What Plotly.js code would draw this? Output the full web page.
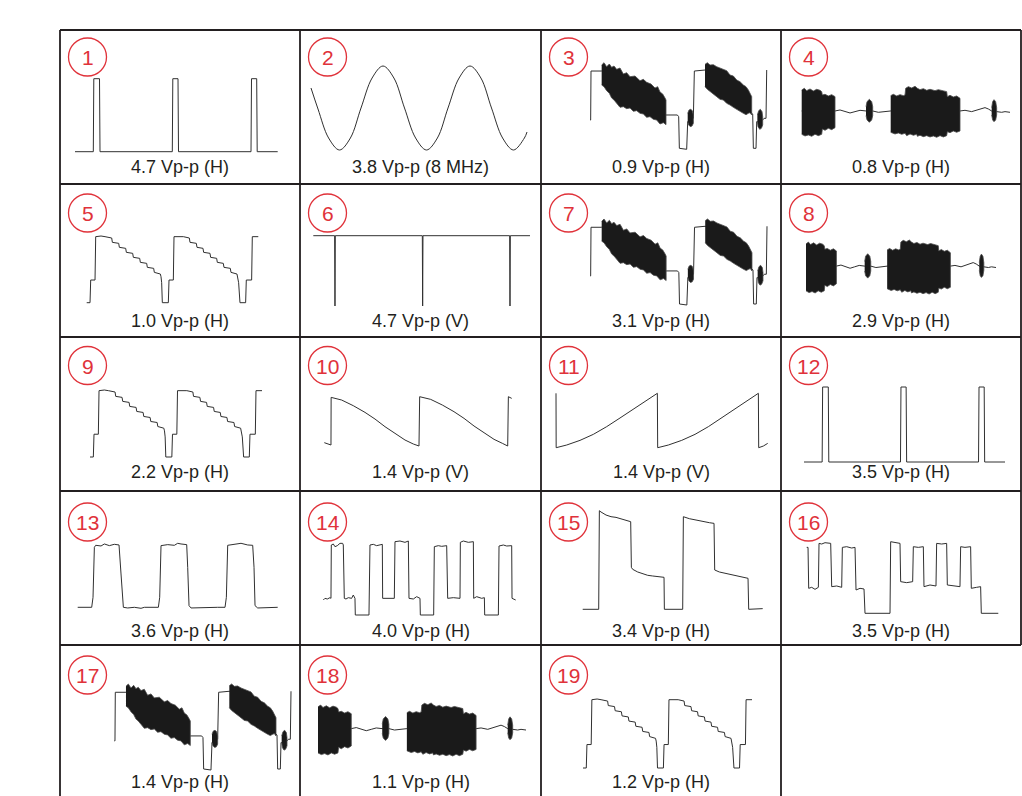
<!DOCTYPE html>
<html><head><meta charset="utf-8">
<script src="https://cdn.plot.ly/plotly-3.0.1.min.js"></script>
<style>html,body{margin:0;padding:0;background:#fff}#chart{width:1022px;height:796px}</style>
</head><body><div id="chart"></div>
<script>
// ================= DATA =================
// time: sample units across the sweep; level: units above the lowest point of the trace
const panelNumbers = ['1','2','3','4','5','6','7','8','9','10','11','12','13','14','15','16','17','18','19'];
const panelLabels = ['4.7 Vp-p (H)','3.8 Vp-p (8 MHz)','0.9 Vp-p (H)','0.8 Vp-p (H)',
  '1.0 Vp-p (H)','4.7 Vp-p (V)','3.1 Vp-p (H)','2.9 Vp-p (H)',
  '2.2 Vp-p (H)','1.4 Vp-p (V)','1.4 Vp-p (V)','3.5 Vp-p (H)',
  '3.6 Vp-p (H)','4.0 Vp-p (H)','3.4 Vp-p (H)','3.5 Vp-p (H)',
  '1.4 Vp-p (H)','1.1 Vp-p (H)','1.2 Vp-p (H)'];
const panelWave = ['pulse','sine','bars','burst','stairs','vsync','bars','burst',
  'stairs','rampDown','rampUp','pulse','square','p14','p15','p16','bars','burst','stairs'];

const pulseT = [0,18.3,18.8,24.5,25,97.3,97.8,103,103.5,176,176.5,181.7,182.2,202.7];
const pulseV = [0,0,73,73,0,0,73,73,0,0,73,73,0,0];

const sineT = [0,7,17.6,28.5,39.4,50,61.1,72,82.9,93.5,104.6,115.5,126.4,137,148.1,159,169.9,180.5,191.6,202.5,213.4,216];
const sineV = [62,41,12,0,12,42,72,84,72,42,12,0,12,42,72,84,72,42,12,0,12,18];

const barsT = [0,2,3,35,228,262,266,268,290,291,293,310,313,345,485,488,490,498,500,502,518,522,528,530];
const barsV = [90,90,237,237,105,105,100,5,2,85,85,95,237,240,110,108,5,5,85,85,90,95,95,240];
const barsFillT = [35,42,50,58,65,72,80,90,100,110,120,135,150,160,170,183,195,203,210,218,225,228,
  228,220,210,200,190,180,170,160,150,140,130,120,110,100,90,80,72,65,58,50,42,35,null,
  293,297,302,307,310,310,306,301,296,293,null,
  345,352,360,370,380,390,400,410,420,430,440,450,460,468,475,480,485,
  485,480,475,468,460,450,440,430,420,410,400,390,380,370,360,352,345,null,
  502,506,511,516,518,518,514,509,504,502];
const barsFillV = [255,262,250,258,248,252,242,246,228,232,220,222,208,212,203,198,186,190,174,168,156,150,
  76,82,78,90,92,100,98,108,110,118,116,126,124,130,128,142,150,156,170,178,190,195,null,
  110,120,122,118,105,80,72,70,75,85,null,
  257,262,255,256,250,246,240,238,225,222,210,205,195,190,180,172,160,
  105,112,110,106,110,116,120,128,135,140,150,152,160,168,175,182,190,null,
  105,118,122,115,100,75,65,62,70,85];

const burstT = [0,100,115,130,145,160,175,193,213,230,250,267,475,490,510,530,550,560,570,585,600,610,625];
const burstV = [82,82,85,80,76,80,84,82,82,78,80,82,82,84,80,86,92,88,82,80,78,80,78];
const burstFillT = [0,8,15,25,35,45,55,60,62,70,80,90,100,
  100,90,80,70,62,60,50,40,30,20,10,0,null,
  193,196,203,210,213,213,210,203,196,193,null,
  267,275,285,295,305,310,312,320,330,340,347,355,365,375,385,400,410,420,435,437,445,455,465,475,
  475,465,455,445,437,435,425,415,405,395,385,375,365,355,347,345,335,325,315,310,300,290,280,267,null,
  570,573,577,582,585,585,582,577,573,570];
const burstFillV = [145,150,143,148,142,147,144,140,130,132,127,131,125,
  32,26,30,24,28,12,8,12,6,10,7,12,null,
  95,110,117,110,95,68,55,48,55,68,null,
  128,132,127,131,128,130,150,155,151,156,150,146,149,144,147,143,146,144,140,125,129,124,127,120,
  22,18,22,17,20,8,4,8,3,7,4,8,5,9,6,12,9,13,8,15,12,16,13,18,null,
  92,110,116,110,92,70,55,50,55,70];

const stairsT = [0,10,12,25,27,43,55,75,77,96,98,117,119,138,140,159,161,180,182,201,203,221,223,
  225,227,245,247,260,262,290,308,310,329,331,349,351,370,372,390,392,410,412,431,433,451,453,
  456,460,477,479,495,497,515];
const stairsV = [0,0,68,68,198,200,198,194,181,178,166,163,151,148,136,133,121,118,106,103,91,86,78,
  60,0,0,68,68,198,198,194,181,178,166,163,151,148,136,133,121,118,106,103,91,86,78,
  60,0,0,68,68,198,198];

const vsyncT = [0,64,65,66,327,328,329,589,590,591,650];
const vsyncV = [211,211,0,211,211,0,211,211,0,211,211];

const rampDownT = [0,20,20.5,52,87,122,152,182,212,242,267,284,286,319,354,389,419,449,479,509,534,550,552,562];
const rampDownV = [10,3,146,138,121,101,81,58,38,18,6,0,148,140,123,103,83,60,40,20,8,0,148,143];

const rampUpT = [0,0.5,32,72,112,152,192,232,272,304,305,337,377,417,457,497,537,577,607,608,622,635];
const rampUpV = [163,0,8,22,40,63,89,116,142,163,0,8,22,40,63,89,116,142,163,0,5,13];

const squareT = [0,42,46,50,54,70,80,95,110,124,130,137,150,170,190,200,242,246,250,270,290,300,310,327,
  330,334,340,380,420,442,446,450,470,490,510,525,529,532,540,580,600];
const squareV = [0,0,30,180,186,184,190,185,189,187,100,0,-2,0,-3,0,0,30,185,188,186,192,190,188,
  120,5,-2,0,0,0,30,186,188,192,187,186,120,5,-2,0,0];

const p14T = [0,5,12,20,23,24,30,35,42,50,58,60,63,68,75,85,90,95,96,137,140,150,160,177,178,213,
  215,230,245,255,257,270,280,290,291,331,333,345,355,370,373,390,410,411,420,435,450,451,460,475,
  483,484,525,527,540,550,565,566,577];
const p14V = [45,50,48,52,50,210,213,205,208,215,215,210,50,48,52,50,60,50,0,0,210,212,208,212,50,50,
  220,222,218,222,50,48,55,50,0,0,205,208,206,208,50,52,50,218,222,218,220,50,55,50,
  52,0,0,207,210,207,208,50,45];

const p15T = [0,48,50,55,70,85,100,115,130,144,146,150,165,180,195,210,230,244,245,300,302,320,340,
  360,380,394,396,410,430,450,470,496,498,540];
const p15V = [0,0,296,292,283,278,276,272,268,263,126,120,112,106,102,100,98,96,0,0,278,272,268,
  263,260,258,118,112,108,104,100,93,0,2];

const p16T = [0,4,6,15,25,35,37,45,55,72,75,90,105,107,120,135,145,148,160,172,175,250,252,265,280,
  282,300,318,320,335,350,352,370,388,390,405,420,422,440,460,462,475,492,494,510,522,524,575];
const p16V = [198,198,75,78,72,78,210,208,212,210,80,82,78,198,200,196,198,70,75,73,0,0,215,213,210,
  95,92,95,200,198,200,80,85,82,210,208,210,85,82,80,200,198,200,75,78,80,0,0];

// ================= LAYOUT (positions / styles) =================
const W = 1022, H = 796;
const waves = {
  pulse: {t: pulseT, v: pulseV},
  sine: {t: sineT, v: sineV, spline: true},
  bars: {t: barsT, v: barsV, ft: barsFillT, fv: barsFillV},
  burst: {t: burstT, v: burstV, ft: burstFillT, fv: burstFillV},
  stairs: {t: stairsT, v: stairsV},
  vsync: {t: vsyncT, v: vsyncV},
  rampDown: {t: rampDownT, v: rampDownV},
  rampUp: {t: rampUpT, v: rampUpV},
  square: {t: squareT, v: squareV},
  p14: {t: p14T, v: p14V},
  p15: {t: p15T, v: p15V},
  p16: {t: p16T, v: p16V}
};
// trace bounding boxes on the page [left, top, right, bottom] in px
const boxes = [
  [75,78.7,277.7,151.7],[311,66,527,150],[590,62.7,766.7,149.3],[801.7,86.3,1010,137.3],
  [86.7,236,258.3,302.7],[313.3,235.7,530,306],[590,219,767,305],[806,240,996,294],
  [90,390,262,457],[324.3,396.7,511.7,446],[556,393.3,767.7,447.7],[804,387,1005,462],
  [77.7,543.3,277.7,608.3],[323.3,541,515.7,615],[582.7,510.7,762.7,609.3],[806.7,541.7,998.3,613.3],
  [114.3,684,291,770],[318,703,526,756],[583,699,752,768]
];
const colX = [60,300,541,781,1021];
const rowTops = [30,184,337,491,645];
const circleDy = [27,29,28.5,31,30];
const circleDx = 27.5;
const circleR = 19;
const labelY = [166.5,321.5,471.5,630.5,782];

const FONT = 'Liberation Sans, Arial, Helvetica, sans-serif';
const RED = '#e0323a';
const INK = '#231f20';
const px = x => x / W;
const py = y => 1 - y / H;
const clamp = v => Math.max(0, Math.min(1, v));

const data = [];
const layout = {
  width: W, height: H, margin: {l:0, r:0, t:0, b:0},
  paper_bgcolor: '#ffffff', plot_bgcolor: 'rgba(0,0,0,0)', showlegend: false,
  shapes: [], annotations: []
};

panelWave.forEach((key, i) => {
  const k = i + 1;
  const sfx = k === 1 ? '' : String(k);
  const wv = waves[key];
  const allT = wv.t.concat(wv.ft || []).filter(v => v !== null);
  const allV = wv.v.concat(wv.fv || []).filter(v => v !== null);
  const tMin = Math.min(...allT), tMax = Math.max(...allT);
  const vMin = Math.min(...allV), vMax = Math.max(...allV);
  const [bx0, by0, bx1, by1] = boxes[i];
  const pad = 4;
  const sx = (tMax - tMin) / (bx1 - bx0);
  const sy = (vMax - vMin) / (by1 - by0);
  layout['xaxis' + sfx] = {
    domain: [clamp(px(bx0 - pad)), clamp(px(bx1 + pad))],
    range: [tMin - pad * sx, tMax + pad * sx],
    visible: false, fixedrange: true, anchor: 'y' + sfx
  };
  layout['yaxis' + sfx] = {
    domain: [clamp(py(by1 + pad)), clamp(py(by0 - pad))],
    range: [vMin - pad * sy, vMax + pad * sy],
    visible: false, fixedrange: true, anchor: 'x' + sfx
  };
  data.push({
    type: 'scatter', mode: 'lines', x: wv.t, y: wv.v,
    line: {color: '#303030', width: 1, shape: wv.spline ? 'spline' : 'linear'},
    xaxis: 'x' + sfx, yaxis: 'y' + sfx, hoverinfo: 'skip'
  });
  if (wv.ft) {
    data.push({
      type: 'scatter', mode: 'lines', x: wv.ft, y: wv.fv, fill: 'toself',
      fillcolor: '#1a1a1a', line: {color: '#4a4a4a', width: 0.8},
      xaxis: 'x' + sfx, yaxis: 'y' + sfx, hoverinfo: 'skip', connectgaps: false
    });
  }
  const col = i % 4, row = Math.floor(i / 4);
  const cx = colX[col] + circleDx, cy = rowTops[row] + circleDy[row];
  layout.shapes.push({
    type: 'circle', xref: 'paper', yref: 'paper',
    x0: px(cx - circleR), x1: px(cx + circleR), y0: py(cy + circleR), y1: py(cy - circleR),
    line: {color: RED, width: 1.3}, fillcolor: 'rgba(0,0,0,0)'
  });
  layout.annotations.push({
    xref: 'paper', yref: 'paper', x: px(cx), y: py(cy + 0.5), xanchor: 'center', yanchor: 'middle',
    text: panelNumbers[i], showarrow: false, font: {family: FONT, size: 21, color: RED}
  });
  layout.annotations.push({
    xref: 'paper', yref: 'paper', x: px((colX[col] + colX[col + 1]) / 2), y: py(labelY[row]),
    xanchor: 'center', yanchor: 'middle', text: panelLabels[i], showarrow: false,
    font: {family: FONT, size: 18, color: INK}
  });
});

// grid frame
const gridLine = (x0, y0, x1, y1) => ({
  type: 'line', xref: 'paper', yref: 'paper', x0: px(x0), y0: py(y0), x1: px(x1), y1: py(y1),
  line: {color: INK, width: 1.8}
});
rowTops.forEach(y => layout.shapes.push(gridLine(60, y, 1021, y)));
[60, 300, 541, 781].forEach(x => layout.shapes.push(gridLine(x, 30, x, 800)));
layout.shapes.push(gridLine(1021, 30, 1021, 645));

Plotly.newPlot('chart', data, layout, {staticPlot: true, displayModeBar: false});
</script>
</body></html>
